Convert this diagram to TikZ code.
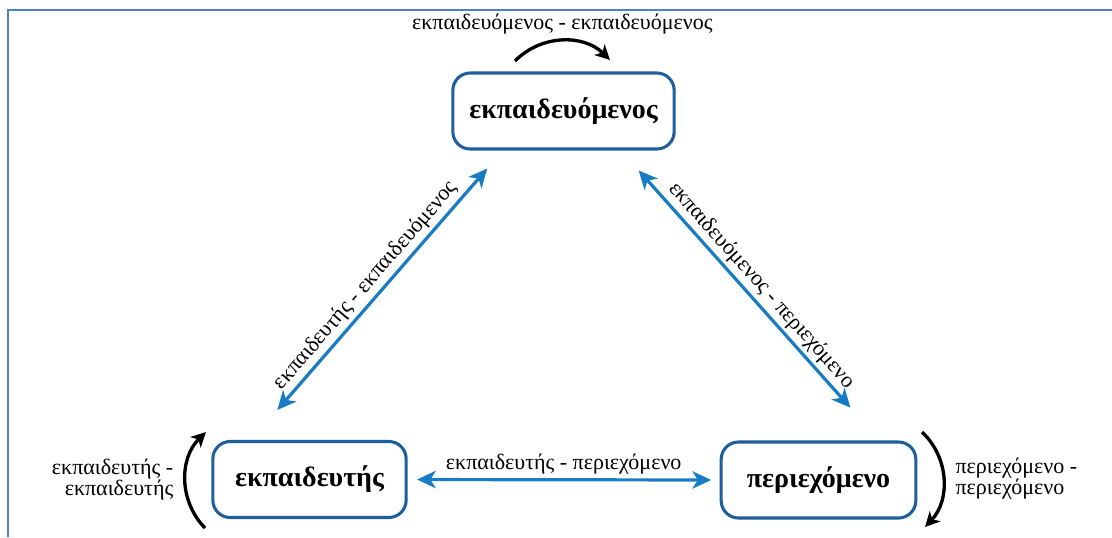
\documentclass[tikz,border=0pt]{standalone}
\usepackage{fontspec}
\setmainfont{Liberation Serif}
\usetikzlibrary{arrows.meta,positioning,calc}
\definecolor{boxblue}{RGB}{31,94,156}
\definecolor{arrowblue}{RGB}{24,124,196}
\definecolor{frameblue}{RGB}{79,129,189}
\begin{document}
\begin{tikzpicture}[x=0.75pt,y=0.75pt,yscale=-1,xscale=1,
  role/.style={draw=boxblue,line width=2.3pt,rounded corners=13pt,fill=white,inner sep=0.75pt,
    minimum height=57pt,font=\fontsize{21}{25}\selectfont\bfseries},
  relation/.style={draw=arrowblue,line width=2.4pt,
    {Stealth[length=14pt,width=13pt,inset=4pt]}-{Stealth[length=14pt,width=13pt,inset=4pt]}},
  selfloop/.style={draw=black,line width=2.5pt,-{Stealth[length=11pt,width=11pt,inset=3pt]}},
  relabel/.style={font=\fontsize{16.5}{16}\selectfont,inner sep=0.75pt}]
\useasboundingbox (0,0) rectangle (1112,537);

%Shape: Frame
\draw [frameblue,line width=1.6pt] (8,537) -- (8,10) -- (1112,10) ;

%Shape: Rounded Rectangles
\node [role,minimum width=166pt] (trainee) at (563.5,111) {εκπαιδευόμενος};
\node [role,minimum width=145pt] (trainer) at (309.5,479.5) {εκπαιδευτής};
\node [role,minimum width=146pt] (content) at (818.5,480) {περιεχόμενο};

%Straight Lines
\draw [relation,shorten <=29.8pt,shorten >=17.9pt] ($(trainer.north west)+(40,0)$) -- node [midway,rotate=49,anchor=south,relabel,inner sep=2.5pt] {εκπαιδευτής - εκπαιδευόμενος} ($(trainee.south west)+(51.6,0)$) ;
\draw [relation,shorten <=20pt,shorten >=33pt] ($(trainee.south east)+(-54.8,0)$) -- node [midway,rotate=-48.3,anchor=south,relabel,inner sep=2.5pt] {εκπαιδευόμενος - περιεχόμενο} ($(content.north east)+(-37.6,0)$) ;
\draw [relation,shorten <=7pt,shorten >=6.4pt] (trainer.east) -- node [midway,anchor=south,relabel,inner sep=3pt] {εκπαιδευτής - περιεχόμενο} (content.west) ;

%Curve Lines
\coordinate (tA) at (515,61);
\coordinate (tB) at (610,60);
\coordinate (lA) at (205,528);
\coordinate (lB) at (206,432);
\coordinate (rA) at (922,432);
\coordinate (rB) at (925,527);
\draw [selfloop] (tA) to [bend right=45] node [midway,anchor=south,relabel,inner sep=3.5pt] {εκπαιδευόμενος - εκπαιδευόμενος} (tB) ;
\draw [selfloop] (lA) to [bend right=45] node [midway,anchor=east,relabel,inner sep=8pt,align=right] {εκπαιδευτής -\\εκπαιδευτής} (lB) ;
\draw [selfloop] (rA) to [bend right=45] node [midway,anchor=west,relabel,inner sep=8pt,align=left] {περιεχόμενο -\\περιεχόμενο} (rB) ;

\end{tikzpicture}
\end{document}
